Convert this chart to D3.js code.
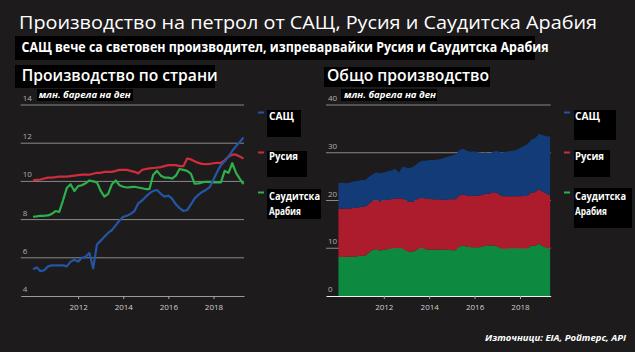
<!DOCTYPE html>
<html>
<head>
<meta charset="utf-8">
<script src="https://cdn.jsdelivr.net/npm/d3@7"></script>
<style>
  body { margin: 0; background: #1d1b1c; }
  text { font-family: "Open Sans", "Noto Sans", sans-serif; }
</style>
</head>
<body>
<div id="container"></div>
<script>
/* DATA (million barrels per day, every two months) */
const months = [
  "2010-01","2010-03","2010-05","2010-07","2010-09","2010-11",
  "2011-01","2011-03","2011-05","2011-07","2011-09","2011-11",
  "2012-01","2012-03","2012-05","2012-07","2012-09","2012-11",
  "2013-01","2013-03","2013-05","2013-07","2013-09","2013-11",
  "2014-01","2014-03","2014-05","2014-07","2014-09","2014-11",
  "2015-01","2015-03","2015-05","2015-07","2015-09","2015-11",
  "2016-01","2016-03","2016-05","2016-07","2016-09","2016-11",
  "2017-01","2017-03","2017-05","2017-07","2017-09","2017-11",
  "2018-01","2018-03","2018-05","2018-07","2018-09","2018-11",
  "2019-01","2019-03","2019-05"
];
const usa = [
  5.4, 5.5, 5.3, 5.35, 5.55, 5.6,
  5.6, 5.6, 5.6, 5.55, 5.8, 5.9,
  5.8, 6.0, 6.05, 6.25, 5.45, 6.7,
  6.9, 7.1, 7.3, 7.45, 7.7, 7.95,
  8.15, 8.2, 8.3, 8.45, 8.85, 9.0,
  9.2, 9.37, 9.5, 9.55, 9.35, 9.2,
  9.25, 9.1, 8.8, 8.6, 8.45, 8.5,
  8.8, 9.1, 9.3, 9.45, 9.55, 9.7,
  10.1, 10.5, 10.85, 11.05, 11.3, 11.6,
  11.85, 12.05, 12.3
];
const russia = [
  10.05, 10.08, 10.1, 10.15, 10.2, 10.2,
  10.22, 10.25, 10.25, 10.25, 10.28, 10.3,
  10.33, 10.35, 10.35, 10.35, 10.4, 10.45,
  10.45, 10.5, 10.5, 10.5, 10.55, 10.6,
  10.6, 10.6, 10.55, 10.5, 10.42, 10.6,
  10.65, 10.68, 10.7, 10.72, 10.75, 10.8,
  10.85, 10.85, 10.85, 10.8, 10.8, 11.2,
  11.15, 11.05, 10.97, 10.92, 10.9, 10.92,
  10.95, 10.97, 10.97, 11.1, 11.3, 11.4,
  11.4, 11.3, 11.2
];
const saudi = [
  8.15, 8.17, 8.2, 8.2, 8.22, 8.3,
  8.45, 8.4, 9.0, 9.65, 9.85, 9.5,
  9.75, 9.8, 9.9, 10.05, 10.0, 9.95,
  9.5, 9.2, 9.35, 9.85, 10.05, 9.8,
  9.72, 9.68, 9.7, 9.72, 9.68, 9.64,
  9.6, 9.6, 10.35, 10.55, 10.3, 10.2,
  10.2, 10.15, 10.3, 10.65, 10.6, 10.55,
  10.4, 9.88, 9.9, 9.95, 9.98, 9.98,
  9.95, 9.95, 9.95, 10.55, 10.45, 10.95,
  10.45, 10.15, 9.86
];
const countries = ["САЩ", "Русия", "Саудитска Арабия"];
const leftTicks = [4, 6, 8, 10, 12, 14];
const rightTicks = [0, 10, 20, 30, 40];
const yearTicks = [2012, 2014, 2016, 2018];

/* CONSTANTS AND GLOBALS */
const width = 635, height = 352;
const lineColors = ["#2356a6", "#d22c3c", "#2cb14c"];
const areaColors = ["#133b78", "#ad1c2c", "#0d8a40"];

const parseMonth = d3.timeParse("%Y-%m");
const rows = months.map((m, i) => ({
  date: parseMonth(m), usa: usa[i], russia: russia[i], saudi: saudi[i]
}));

const svg = d3.select("#container")
  .append("svg")
  .attr("width", width)
  .attr("height", height);

svg.append("rect").attr("width", width).attr("height", height).attr("fill", "#1d1b1c");

/* black boxes behind headings (as in the picture) */
const blackBoxes = [
  [15, 36, 520, 24], [15, 65, 200, 23], [324, 67, 166, 20],
  [37, 89, 96, 12], [341, 89, 96, 12],
  [267, 110, 34, 27], [267, 151, 40, 26], [267, 189, 54, 30],
  [574, 110, 42, 30], [574, 150, 36, 27], [574, 188, 58, 40]
];
svg.selectAll("rect.box")
  .data(blackBoxes)
  .join("rect")
  .attr("class", "box")
  .attr("x", d => d[0]).attr("y", d => d[1])
  .attr("width", d => d[2]).attr("height", d => d[3])
  .attr("fill", "#000");

/* TITLES */
svg.append("text")
  .attr("x", 19).attr("y", 29)
  .attr("fill", "#fff").attr("font-size", 19).attr("font-weight", 500)
  .attr("textLength", 578).attr("lengthAdjust", "spacingAndGlyphs")
  .text("Производство на петрол от САЩ, Русия и Саудитска Арабия");

svg.append("text")
  .attr("x", 21.5).attr("y", 52)
  .attr("fill", "#fff").attr("font-size", 13.5).attr("font-weight", 700)
  .attr("textLength", 527).attr("lengthAdjust", "spacingAndGlyphs")
  .text("САЩ вече са световен производител, изпреварвайки Русия и Саудитска Арабия");

svg.append("text")
  .attr("x", 485).attr("y", 341)
  .attr("fill", "#fff").attr("font-size", 9.5).attr("font-weight", 700)
  .attr("font-style", "italic")
  .attr("textLength", 141).attr("lengthAdjust", "spacingAndGlyphs")
  .text("Източници: EIA, Ройтерс, API");

/* PANEL HELPER */
function panel(opts) {
  const g = svg.append("g");

  const x = d3.scaleTime()
    .domain([new Date(2009, 5, 15), new Date(2019, 4, 10)])
    .range([opts.x0, opts.x1]);
  const y = d3.scaleLinear().domain(opts.yDomain).range([296, 105]);

  g.append("text")
    .attr("x", opts.x0 + 1).attr("y", 80.5)
    .attr("fill", "#fff").attr("font-size", 17).attr("font-weight", 600)
    .attr("textLength", opts.titleLen).attr("lengthAdjust", "spacingAndGlyphs")
    .text(opts.title);

  g.append("text")
    .attr("x", opts.x0 + 18).attr("y", 98)
    .attr("fill", "#fff").attr("font-size", 8.5).attr("font-weight", 700)
    .attr("font-style", "italic")
    .attr("textLength", 92).attr("lengthAdjust", "spacingAndGlyphs")
    .text("млн. барела на ден");

  /* gridlines */
  g.selectAll("line.grid")
    .data(opts.yTicks.slice(1))
    .join("line")
    .attr("class", "grid")
    .attr("x1", opts.x0).attr("x2", opts.x1)
    .attr("y1", d => y(d)).attr("y2", d => y(d))
    .attr("stroke", "#8a8a8a").attr("stroke-width", 1);

  g.selectAll("text.ylab")
    .data(opts.yTicks)
    .join("text")
    .attr("class", "ylab")
    .attr("x", opts.x0 + 2).attr("y", d => y(d) - 4)
    .attr("fill", "#b0b0b0").attr("font-size", 8)
    .attr("font-family", "'DejaVu Serif', serif")
    .text(d => d);

  opts.draw(g, x, y);

  /* x axis */
  const xAxis = g.append("g")
    .attr("transform", "translate(0,296)")
    .call(d3.axisBottom(x)
      .tickValues(yearTicks.map(yr => new Date(yr, 0, 1)))
      .tickFormat(d3.timeFormat("%Y"))
      .tickSize(3).tickSizeOuter(0).tickPadding(5));
  xAxis.select(".domain").attr("stroke", opts.axisColor).attr("stroke-width", 1.2);
  xAxis.selectAll(".tick line").attr("stroke", "#aaa");
  xAxis.selectAll(".tick text")
    .attr("fill", "#d0d0d0").attr("font-size", 8)
    .attr("font-family", "'DejaVu Serif', serif");

  /* legend */
  const legendY = [[116], [156], [196, 211]];
  const legendLen = [[25], [29], [51, 32]];
  countries.forEach((c, i) => {
    g.append("line")
      .attr("x1", opts.legendX - 11).attr("x2", opts.legendX - 5)
      .attr("y1", legendY[i][0] - 3.5).attr("y2", legendY[i][0] - 3.5)
      .attr("stroke", lineColors[i]).attr("stroke-width", 2);
    const words = i === 2 ? ["Саудитска", "Арабия"] : [c];
    words.forEach((w, j) => {
      g.append("text")
        .attr("x", opts.legendX).attr("y", legendY[i][j] + 4)
        .attr("fill", "#fff").attr("font-size", 11).attr("font-weight", 700)
        .attr("textLength", legendLen[i][j]).attr("lengthAdjust", "spacingAndGlyphs")
        .text(w);
    });
  });
}

/* LEFT: production by country */
panel({
  x0: 20.7, x1: 244, yDomain: [4, 14], yTicks: leftTicks,
  title: "Производство по страни", titleLen: 196,
  axisColor: "#9a9a9a", legendX: 269,
  draw: (g, x, y) => {
    const keys = ["russia", "saudi", "usa"];
    const colors = { usa: lineColors[0], russia: lineColors[1], saudi: lineColors[2] };
    keys.forEach(k => {
      g.append("path")
        .datum(rows)
        .attr("fill", "none")
        .attr("stroke", colors[k])
        .attr("stroke-width", 2.2)
        .attr("stroke-linejoin", "round")
        .attr("d", d3.line().x(d => x(d.date)).y(d => y(d[k])));
    });
  }
});

/* RIGHT: total production, stacked */
panel({
  x0: 326, x1: 550.7, yDomain: [0, 40], yTicks: rightTicks,
  title: "Общо производство", titleLen: 162,
  axisColor: "#f0f0f0", legendX: 575,
  draw: (g, x, y) => {
    const stack = d3.stack().keys(["saudi", "russia", "usa"]);
    const layers = stack(rows);
    const fill = { usa: areaColors[0], russia: areaColors[1], saudi: areaColors[2] };
    g.selectAll("path.layer")
      .data(layers)
      .join("path")
      .attr("class", "layer")
      .attr("fill", d => fill[d.key])
      .attr("d", d3.area()
        .x(d => x(d.data.date))
        .y0(d => y(d[0]))
        .y1(d => y(d[1])));
  }
});
</script>
</body>
</html>
